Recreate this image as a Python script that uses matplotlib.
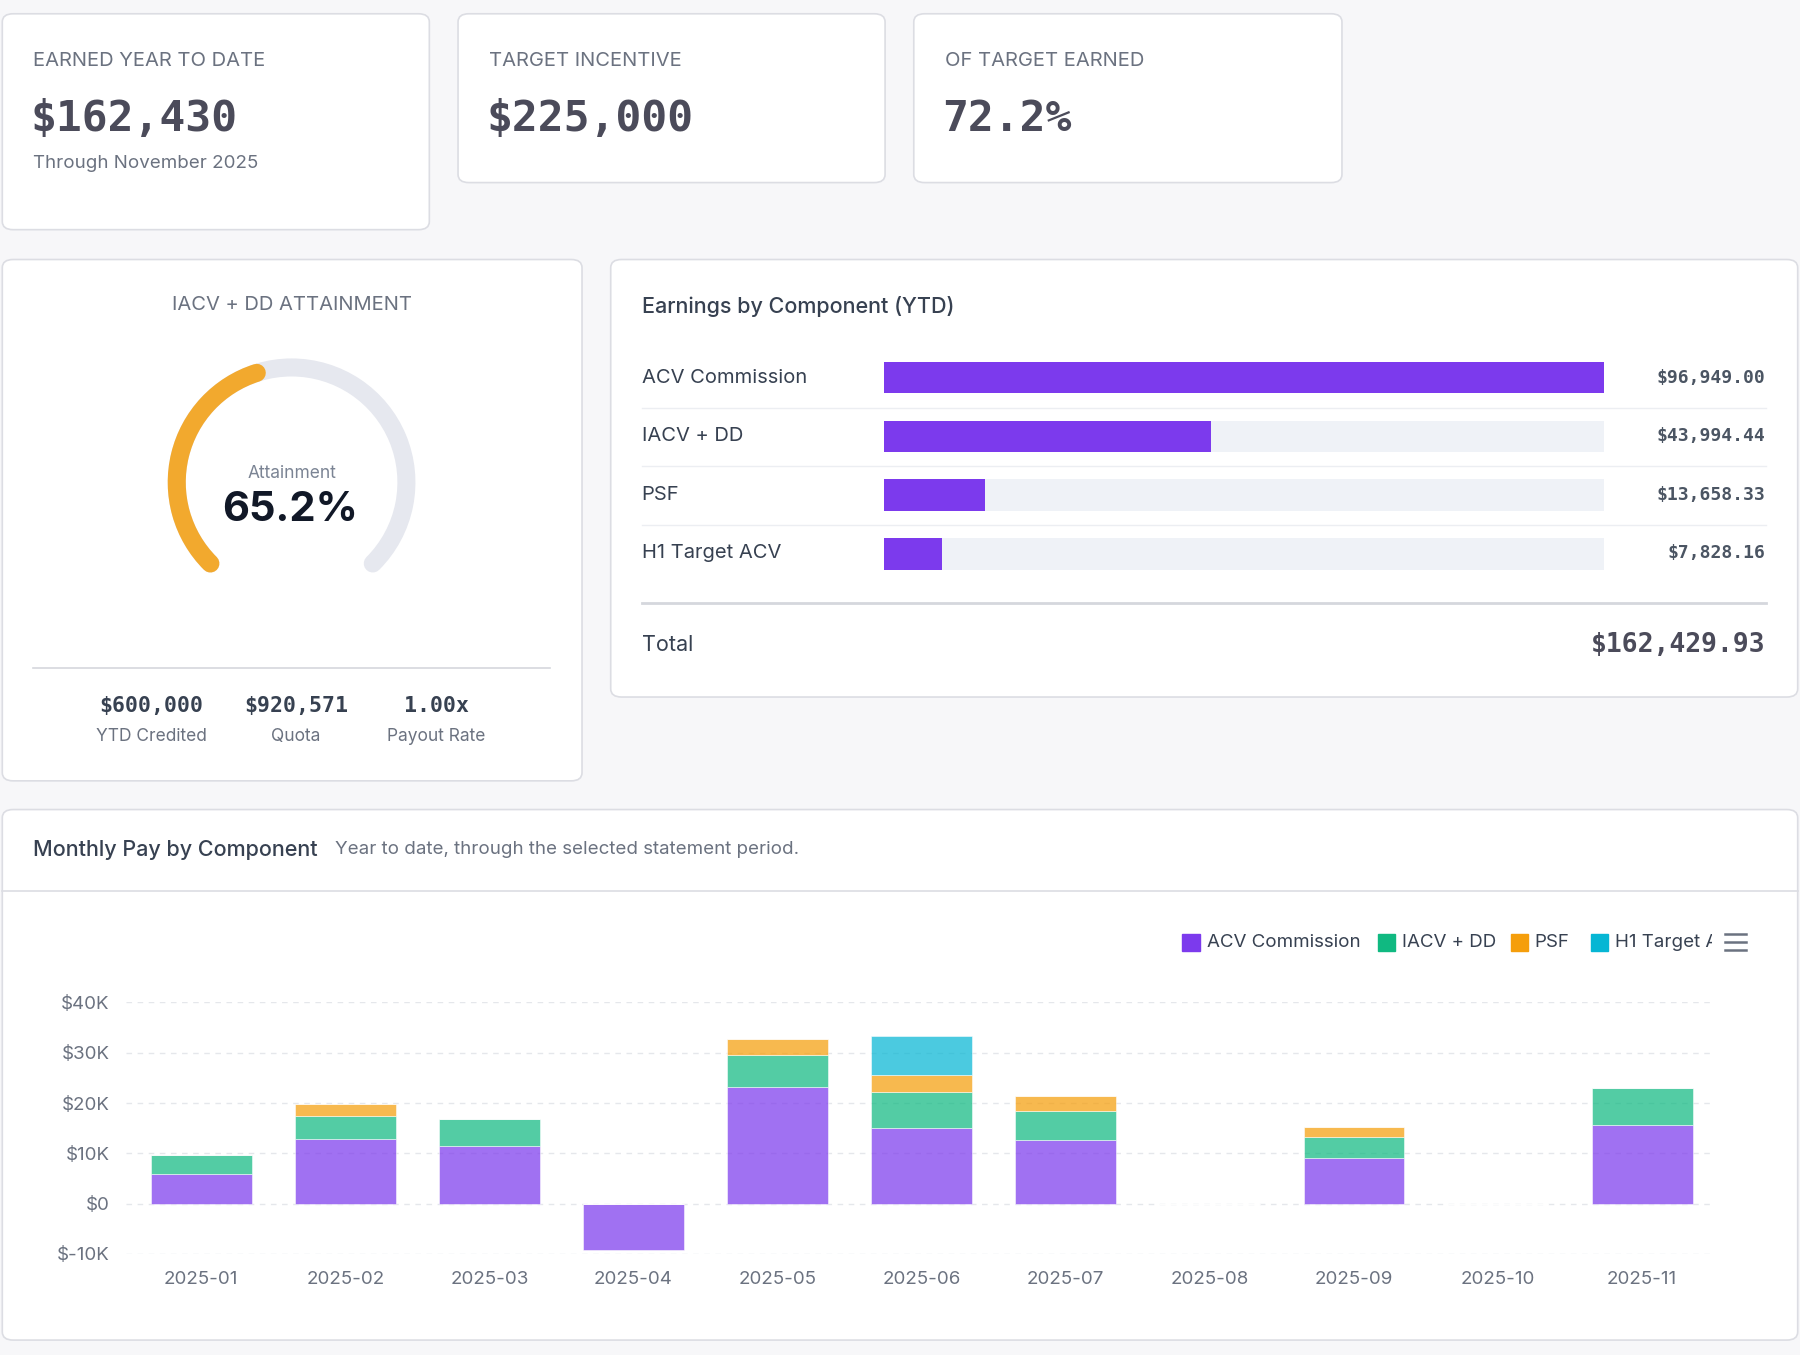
import matplotlib
matplotlib.use("Agg")
import matplotlib.pyplot as plt
from matplotlib.patches import FancyBboxPatch, Arc, Rectangle
from matplotlib.transforms import Bbox
import numpy as np

# ---- data ----
kpi_labels = ["EARNED YEAR TO DATE", "TARGET INCENTIVE", "OF TARGET EARNED"]
kpi_values = ["$162,430", "$225,000", "72.2%"]
kpi_sub = "Through November 2025"

attainment = 65.2
gauge_max = 150.0
gauge_stats = ["$600,000", "$920,571", "1.00x"]
gauge_stat_labels = ["YTD Credited", "Quota", "Payout Rate"]

components = ["ACV Commission", "IACV + DD", "PSF", "H1 Target ACV"]
component_totals = [96949.00, 43994.44, 13658.33, 7828.16]
total_label = "$162,429.93"

months = ["2025-01", "2025-02", "2025-03", "2025-04", "2025-05", "2025-06",
          "2025-07", "2025-08", "2025-09", "2025-10", "2025-11"]
acv = [5.9, 12.9, 11.4, -9.3, 23.1, 15.1, 12.7, 0, 9.0, 0, 15.7]
iacv = [3.8, 4.6, 5.5, 0, 6.4, 7.0, 5.8, 0, 4.2, 0, 7.3]
psf = [0, 2.4, 0, 0, 3.2, 3.4, 3.0, 0, 2.0, 0, 0]
h1 = [0, 0, 0, 0, 0, 7.8, 0, 0, 0, 0, 0]
yticks = [-10, 0, 10, 20, 30, 40]
ytick_labels = ["$-10K", "$0", "$10K", "$20K", "$30K", "$40K"]

W, H = 1568, 1180
fig = plt.figure(figsize=(18, 13.55), dpi=100)
fig.patch.set_facecolor("#f7f7f9")

def fx(x): return x / W
def fy(y): return 1 - y / H

def card(x0, y0, x1, y1):
    p = FancyBboxPatch((fx(x0), fy(y1)), fx(x1) - fx(x0), fy(y0) - fy(y1),
                       boxstyle="round,pad=0,rounding_size=0.006",
                       transform=fig.transFigure, facecolor="white",
                       edgecolor="#dcdde3", linewidth=1.2, zorder=-10)
    fig.patches.append(p)

def txt(x, y, s, **kw):
    return fig.text(fx(x), fy(y), s, **kw)

SANS = "Inter"
MONO = "DejaVu Sans Mono"
GREY = "#6b7280"
DARK = "#374151"

# KPI cards
boxes = [(2, 12, 374, 200), (399, 12, 771, 159), (796, 12, 1169, 159)]
for (x0, y0, x1, y1), lab, val in zip(boxes, kpi_labels, kpi_values):
    card(x0, y0, x1, y1)
    txt(x0 + 27, 53, lab, family=SANS, fontsize=14.5, color=GREY, va="center")
    txt(x0 + 25, 104, val, family=MONO, fontsize=31, weight="bold", color="#4b4b5a", va="center")
txt(29, 142, kpi_sub, family=SANS, fontsize=13.5, color=GREY, va="center")

# Gauge card
card(2, 226, 507, 680)
txt(254, 266, "IACV + DD ATTAINMENT", family=SANS, fontsize=14.5, color=GREY, ha="center", va="center")
gax = fig.add_axes([fx(128), fy(540), fx(380) - fx(128), fy(300) - fy(540)])
gax.set_zorder(2)
gax.set_xlim(-1.2, 1.2); gax.set_ylim(-1.2, 1.2); gax.set_aspect("equal"); gax.axis("off")
gax.add_patch(Arc((0, 0), 2, 2, theta1=-45, theta2=225, lw=13, color="#e6e8ef", capstyle="round"))
end_ang = 225 - attainment / gauge_max * 270
gax.add_patch(Arc((0, 0), 2, 2, theta1=end_ang, theta2=225, lw=13, color="#f2a92e", capstyle="round"))
txt(254, 412, "Attainment", family=SANS, fontsize=12.5, color="#7b8494", ha="center", va="center")
txt(253, 444, f"{attainment}%", family=SANS, fontsize=30, weight="bold", color="#111827", ha="center", va="center")
fig.add_artist(plt.Line2D([fx(29), fx(479)], [fy(582), fy(582)], color="#d5d7dd", lw=1.2))
for xc, v, l in zip([132, 258, 380], gauge_stats, gauge_stat_labels):
    txt(xc, 615, v, family=MONO, fontsize=15.5, weight="bold", color="#374151", ha="center", va="center")
    txt(xc, 641, l, family=SANS, fontsize=12.5, color=GREY, ha="center", va="center")

# Earnings card
card(532, 226, 1566, 607)
txt(559, 267, "Earnings by Component (YTD)", family=SANS, fontsize=15.5, weight="medium", color=DARK, va="center")
bax = fig.add_axes([fx(770), fy(508), fx(1397) - fx(770), fy(303) - fy(508)])
bax.set_zorder(2)
bax.set_xlim(0, component_totals[0]); bax.set_ylim(3.5, -0.5); bax.axis("off")
ypos = np.arange(len(components))
bax.barh(ypos, [component_totals[0]] * len(components), height=0.53, color="#eff2f7")
bax.barh(ypos, component_totals, height=0.53, color="#7c3aed")
rows_y = [329, 380, 431, 482]
for yy, name, val in zip(rows_y, components, component_totals):
    txt(559, yy, name, family=SANS, fontsize=14.5, color=DARK, va="center")
    txt(1538, yy, f"${val:,.2f}", family=MONO, fontsize=13, weight="bold", color="#4b5563", ha="right", va="center")
for yy in [355, 406, 457]:
    fig.add_artist(plt.Line2D([fx(559), fx(1538)], [fy(yy), fy(yy)], color="#eceef2", lw=1))
fig.add_artist(plt.Line2D([fx(559), fx(1538)], [fy(525), fy(525)], color="#d5d7dd", lw=2))
txt(559, 562, "Total", family=SANS, fontsize=15.5, color=DARK, va="center")
txt(1538, 562, total_label, family=MONO, fontsize=19, weight="bold", color="#4b4b5a", ha="right", va="center")

# Monthly card
card(2, 705, 1566, 1167)
fig.add_artist(plt.Line2D([fx(2), fx(1566)], [fy(776), fy(776)], color="#dcdde3", lw=1.2))
txt(29, 740, "Monthly Pay by Component", family=SANS, fontsize=15.5, weight="medium", color=DARK, va="center")
txt(292, 740, "Year to date, through the selected statement period.", family=SANS, fontsize=13.5, color=GREY, va="center")

ax = fig.add_axes([fx(110), fy(1092), fx(1492) - fx(110), fy(873) - fy(1092)])
ax.set_zorder(2)
ax.set_xlim(-0.52, 10.49); ax.set_ylim(-10, 40)
x = np.arange(len(months))
cols = ["#7c3aed", "#10b981", "#f59e0b", "#06b6d4"]
bot = np.zeros(len(months))
for ser, c in zip([acv, iacv, psf, h1], cols):
    ser = np.array(ser, dtype=float)
    b = np.where(ser >= 0, bot, 0)
    ax.bar(x, ser, bottom=b, width=0.7, color=c, alpha=0.72, edgecolor="white", linewidth=0.5, zorder=3)
    bot = bot + np.where(ser >= 0, ser, 0)
ax.set_yticks(yticks); ax.set_yticklabels(ytick_labels)
ax.set_xticks(x); ax.set_xticklabels(months)
ax.tick_params(length=0, labelsize=13.5, labelcolor="#6b7280", pad=12)
for lab in ax.get_xticklabels() + ax.get_yticklabels():
    lab.set_family(SANS)
ax.grid(axis="y", color="#e5e7eb", linestyle=(0, (4, 4)), lw=1)
ax.set_axisbelow(True)
for s in ax.spines.values(): s.set_visible(False)
ax.set_facecolor("none")

# legend
lx = [1030, 1200, 1316, 1386]
clip = Bbox([[fx(1000) * 1800, fy(840) * 1355], [fx(1491) * 1800, fy(800) * 1355]])
for xx, name, c in zip(lx, components, cols):
    fig.patches.append(Rectangle((fx(xx), fy(828)), fx(15), fy(813) - fy(828),
                                 transform=fig.transFigure, color=c))
    t = txt(xx + 21, 821, name, family=SANS, fontsize=13.5, color=DARK, va="center")
    t.set_clip_box(clip); t.set_clip_on(True)
for yy in [813, 820, 827]:
    fig.add_artist(plt.Line2D([fx(1503), fx(1521)], [fy(yy), fy(yy)], color="#6b7280", lw=1.8))

fig.savefig("out.png", dpi=100, facecolor=fig.get_facecolor())
